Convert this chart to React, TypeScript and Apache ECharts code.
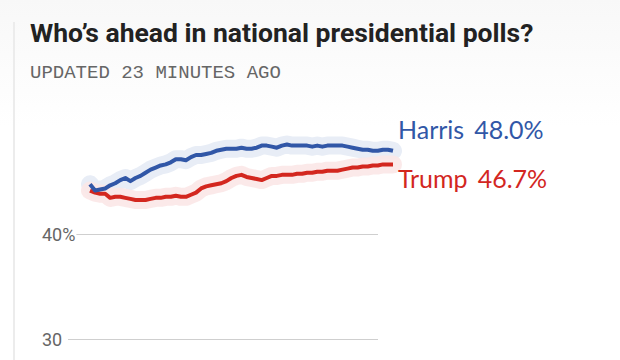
import React, { useEffect, useRef } from "react";
import * as echarts from "echarts";

const TITLE = "Who’s ahead in national presidential polls?";
const SUBTITLE = "UPDATED 23 MINUTES AGO";

const dates = [
  "Aug 3", "Aug 4", "Aug 5", "Aug 6", "Aug 7", "Aug 8", "Aug 9", "Aug 10", "Aug 11", "Aug 12",
  "Aug 13", "Aug 14", "Aug 15", "Aug 16", "Aug 17", "Aug 18", "Aug 19", "Aug 20", "Aug 21", "Aug 22",
  "Aug 23", "Aug 24", "Aug 25", "Aug 26", "Aug 27", "Aug 28", "Aug 29", "Aug 30", "Aug 31", "Sep 1",
  "Sep 2", "Sep 3", "Sep 4", "Sep 5", "Sep 6", "Sep 7", "Sep 8", "Sep 9", "Sep 10", "Sep 11",
  "Sep 12", "Sep 13", "Sep 14", "Sep 15", "Sep 16", "Sep 17", "Sep 18", "Sep 19", "Sep 20", "Sep 21",
  "Sep 22", "Sep 23", "Sep 24", "Sep 25", "Sep 26", "Sep 27", "Sep 28", "Sep 29", "Sep 30", "Oct 1",
  "Oct 2",
];

const harris = [
  44.8, 44.2, 44.3, 44.4, 44.7, 44.9, 45.2, 45.4, 45.1, 45.4,
  45.6, 45.9, 46.2, 46.4, 46.6, 46.7, 46.9, 47.2, 47.2, 47.1,
  47.4, 47.6, 47.6, 47.7, 47.8, 48.0, 48.1, 48.2, 48.2, 48.2,
  48.3, 48.2, 48.2, 48.3, 48.5, 48.5, 48.4, 48.3, 48.5, 48.6,
  48.5, 48.5, 48.5, 48.5, 48.4, 48.5, 48.4, 48.5, 48.5, 48.5,
  48.5, 48.4, 48.3, 48.2, 48.1, 48.1, 48.0, 48.0, 48.1, 48.1,
  48.0,
];

const trump = [
  44.2, 44.0, 43.9, 43.9, 43.5, 43.6, 43.6, 43.5, 43.4, 43.3,
  43.3, 43.3, 43.4, 43.5, 43.5, 43.6, 43.6, 43.7, 43.6, 43.6,
  43.8, 44.0, 44.4, 44.6, 44.7, 44.8, 44.9, 45.1, 45.4, 45.6,
  45.7, 45.5, 45.4, 45.3, 45.2, 45.4, 45.6, 45.6, 45.7, 45.7,
  45.7, 45.8, 45.8, 45.9, 45.9, 46.0, 46.0, 46.1, 46.1, 46.1,
  46.2, 46.3, 46.4, 46.4, 46.5, 46.5, 46.6, 46.6, 46.7, 46.7,
  46.7,
];

const yTicks = [30, 40];

const BLUE = "#3157a7";
const RED = "#d3271f";

export default function App() {
  const ref = useRef<HTMLDivElement>(null);

  useEffect(() => {
    if (!ref.current) return;
    const chart = echarts.init(ref.current, null, { renderer: "svg" });

    const endLabel = (color: string, offsetY: number) => ({
      show: true,
      distance: 5,
      offset: [0, offsetY],
      formatter: (p: any) => `{n|${p.seriesName}}{v|${Number(p.value).toFixed(1)}%}`,
      rich: {
        n: { color, fontFamily: "Lato", fontSize: 25, padding: [0, 10, 0, 0] },
        v: { color, fontFamily: "Lato", fontSize: 25 },
      },
    });

    chart.setOption({
      animation: false,
      backgroundColor: new echarts.graphic.LinearGradient(0, 0, 0, 1, [
        { offset: 0, color: "#f8f8f8" },
        { offset: 0.35, color: "#ffffff" },
        { offset: 1, color: "#ffffff" },
      ]),
      graphic: [
        {
          type: "rect",
          shape: { x: 13, y: 22, width: 2, height: 340 },
          style: { fill: "#ececec" },
          silent: true,
        },
      ],
      title: [
        {
          text: TITLE,
          left: 30,
          top: 19,
          padding: 0,
          textStyle: { fontFamily: "Roboto", fontWeight: "bold", fontSize: 26.5, color: "#222222" },
        },
        {
          text: SUBTITLE,
          left: 30,
          top: 63,
          padding: 0,
          textStyle: { fontFamily: "Liberation Mono", fontWeight: "normal", fontSize: 19, color: "#666666" },
        },
      ],
      grid: [
        { left: 68, right: 242, top: 234, bottom: 21 },
        { left: 90, right: 227, top: 109, bottom: 21 },
      ],
      xAxis: [
        { type: "category", gridIndex: 0, data: dates, boundaryGap: false, show: false },
        { type: "category", gridIndex: 1, data: dates, boundaryGap: false, show: false },
      ],
      yAxis: [
        {
          type: "value",
          gridIndex: 0,
          min: yTicks[0],
          max: yTicks[yTicks.length - 1],
          interval: 10,
          axisLine: { show: false },
          axisTick: { show: false },
          splitLine: { show: true, lineStyle: { color: "#cfcfcf", width: 1 } },
          axisLabel: {
            align: "left",
            margin: 26,
            fontFamily: "Roboto",
            fontSize: 18,
            color: "#666666",
            backgroundColor: "#ffffff",
            padding: [0, 1, 0, 0],
            formatter: (v: number) => (v === 40 ? "40%" : String(v)),
          },
        },
        {
          type: "value",
          gridIndex: 1,
          min: 30,
          max: 52,
          show: false,
          splitLine: { show: false },
        },
      ],
      series: [
        {
          name: "Harris band",
          type: "line",
          xAxisIndex: 1,
          yAxisIndex: 1,
          data: harris,
          showSymbol: false,
          symbol: "none",
          silent: true,
          lineStyle: { color: "#e8edf6", width: 18, join: "round", cap: "round" },
          z: 1,
        },
        {
          name: "Trump band",
          type: "line",
          xAxisIndex: 1,
          yAxisIndex: 1,
          data: trump,
          showSymbol: false,
          symbol: "none",
          silent: true,
          lineStyle: { color: "#fbe7e7", width: 18, join: "round", cap: "round", opacity: 0.9 },
          z: 1,
        },
        {
          name: "Trump",
          type: "line",
          xAxisIndex: 1,
          yAxisIndex: 1,
          data: trump,
          showSymbol: false,
          symbol: "none",
          lineStyle: { color: RED, width: 4, join: "round" },
          endLabel: endLabel(RED, 14),
          z: 3,
        },
        {
          name: "Harris",
          type: "line",
          xAxisIndex: 1,
          yAxisIndex: 1,
          data: harris,
          showSymbol: false,
          symbol: "none",
          lineStyle: { color: BLUE, width: 4, join: "round" },
          endLabel: endLabel(BLUE, -22),
          z: 4,
        },
      ],
    });

    return () => chart.dispose();
  }, []);

  return <div ref={ref} style={{ width: 620, height: 360, position: "absolute", left: 0, top: 0 }} />;
}
